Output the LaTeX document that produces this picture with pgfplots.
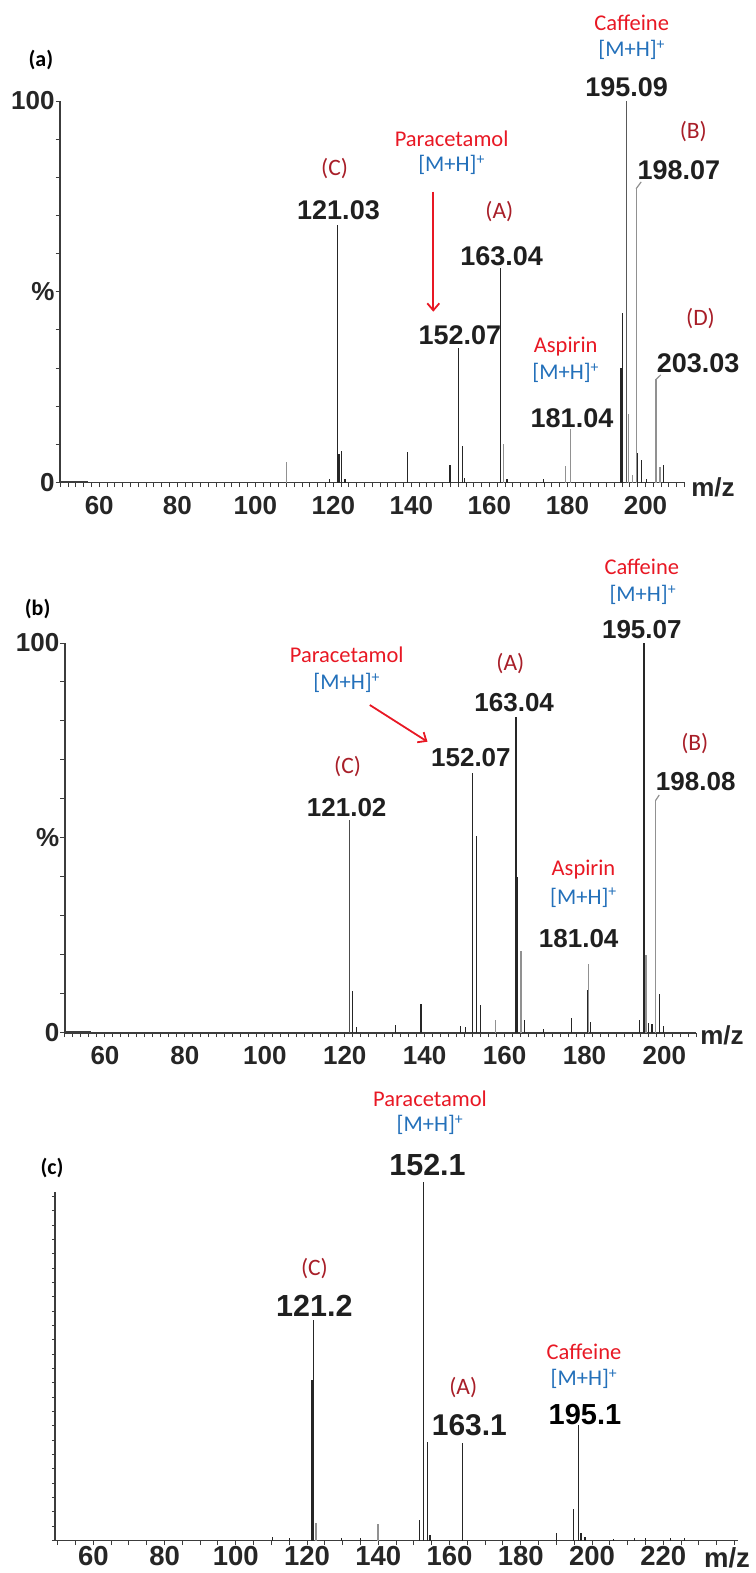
\documentclass[border=0pt]{standalone}
\usepackage{fontspec}
\setmainfont{Liberation Sans}
\newfontfamily\calib{Carlito}
\usepackage{pgfplots}
\pgfplotsset{compat=1.18}
\usetikzlibrary{arrows.meta}

\definecolor{cred}{RGB}{232,24,36}
\definecolor{cblue}{RGB}{35,112,186}
\definecolor{cdred}{RGB}{168,30,40}
\definecolor{pkc}{RGB}{38,38,38}
\definecolor{pgc}{RGB}{145,145,145}
\definecolor{axc}{RGB}{60,60,60}

\pgfplotsset{
  ms/.style={
    scale only axis, anchor=south west, clip=false,
    axis lines=left, axis line style={-, line width=1.6pt, draw=axc},
    ymin=0, ymax=100,
    tick style={line width=1pt, draw=axc},
    tick align=outside,
    major tick length=4.5pt, minor tick length=4.5pt,
    /pgf/number format/assume math mode=true,
    ticklabel style={font=\bfseries\fontsize{26}{26}\selectfont, text=black!85, inner sep=0pt},
  },
  pk/.style={ycomb, no markers, line width=1.2pt, draw=pkc},
  pg/.style={ycomb, no markers, line width=1.2pt, draw=pgc},
}
\tikzset{
  nm/.style={font=\bfseries\fontsize{27}{27}\selectfont, text=black!88, inner sep=0pt},
  cn/.style={font=\calib\fontsize{22.5}{22.5}\selectfont, text=cred, inner sep=0pt},
  mh/.style={font=\calib\fontsize{22.5}{22.5}\selectfont, text=cblue, inner sep=0pt},
  lt/.style={font=\calib\fontsize{23.5}{23.5}\selectfont, text=cdred, inner sep=0pt},
  pl/.style={font=\calib\bfseries\fontsize{22}{22}\selectfont, text=black, inner sep=0pt},
  mz/.style={font=\bfseries\fontsize{26}{26}\selectfont, text=black!85, inner sep=0pt},
}

\begin{document}
\begin{tikzpicture}
\path[use as bounding box] (0pt,0pt) rectangle (755pt,-1573pt);

% ---------------- (a) ----------------
\begin{axis}[ms, at={(60.2pt,-482.5pt)}, width=624.3pt, height=381.5pt,
  xmin=50, xmax=210, xtick={60,80,...,200}, minor xtick={50,52,...,210},
  ytick={0,50,100}, yticklabels={0,\%,100}, minor ytick={10,20,...,90},
  xticklabel style={yshift=-9pt}, yticklabel style={xshift=-1pt}]
\addplot[axc, line width=1.4pt] coordinates {(50,0.3) (57,0.3)};
\addplot[pg] coordinates {(108.0,5.4) (163.7,10) (179.6,4.3) (180.8,14)
  (195.6,18) (196.7,2) (197.6,77) (202.7,27) (203.7,4)};
\addplot[pk] coordinates {(119.1,1) (121.1,67.5) (122.1,8.3) (123.0,1)
  (139.0,7.9) (149.9,4.5) (152.0,35.3) (153.1,9.5) (153.6,1.2) (162.9,56.3)
  (164.5,1) (173.8,1) (194.2,44.5) (197.9,7.8) (198.9,6) (200.3,1) (204.6,4.6)};
\addplot[pk, line width=2pt] coordinates {(121.35,7.6) (193.65,30)};
\addplot[pk, draw=black!65] coordinates {(195.2,100)};
\draw[pgc, line width=1.2pt] (197.6,77) -- (198.9,78.8);
\draw[pgc, line width=1.2pt] (202.7,27) -- (203.9,28.2);
\end{axis}

\node[pl] at (40.9pt,-60pt) {(a)};
\node[cn] at (631.7pt,-23.3pt) {Caffeine};
\node[mh] at (631.7pt,-50pt) {[M+H]\textsuperscript{+}};
\node[nm] at (626.7pt,-87.3pt) {195.09};
\node[lt] at (693.3pt,-131.7pt) {(B)};
\node[nm] at (678.9pt,-170pt) {198.07};
\node[cn] at (451.6pt,-138.3pt) {Paracetamol};
\node[mh] at (451.6pt,-165pt) {[M+H]\textsuperscript{+}};
\draw[cred, line width=1.8pt, -{Straight Barb[length=7pt,width=12pt]}] (433.3pt,-191.7pt) -- (433.3pt,-311.7pt);
\node[lt] at (334.6pt,-168.3pt) {(C)};
\node[nm] at (338.5pt,-210.7pt) {121.03};
\node[lt] at (499.3pt,-211.7pt) {(A)};
\node[nm] at (501.7pt,-256.7pt) {163.04};
\node[nm] at (459.8pt,-335pt) {152.07};
\node[lt] at (700.5pt,-318.3pt) {(D)};
\node[cn] at (565.7pt,-346.7pt) {Aspirin};
\node[mh] at (565.7pt,-373.3pt) {[M+H]\textsuperscript{+}};
\node[nm] at (698.1pt,-363.3pt) {203.03};
\node[nm] at (572pt,-418.3pt) {181.04};
\node[mz] at (713pt,-487pt) {m/z};

% ---------------- (b) ----------------
\begin{axis}[ms, at={(65pt,-1032.7pt)}, width=631.4pt, height=389.7pt,
  xmin=50, xmax=208, xtick={60,80,...,200}, minor xtick={50,52,...,208},
  ytick={0,50,100}, yticklabels={0,\%,100}, minor ytick={10,20,...,90},
  xticklabel style={yshift=-9pt}, yticklabel style={xshift=-1pt}]
\addplot[axc, line width=1.4pt] coordinates {(50,0.3) (56.5,0.3)};
\addplot[pg] coordinates {(157.8,3.3) (164.1,21) (180.9,17.7) (195.4,20) (197.8,59.6)};
\addplot[pk, draw=black!70] coordinates {(121.1,54.5)};
\addplot[pk] coordinates {(121.9,10.8) (122.9,1.5) (132.8,2) (139.1,7.4)
  (149.0,1.7) (150.3,1.5) (152.0,66.6) (153.0,50.6) (154.0,7) (165.0,3.3)
  (169.8,1) (176.8,3.8) (180.8,11) (181.4,2.7) (193.75,3.3) (194.9,100)
  (196.1,2.4) (196.9,2.2) (198.8,10) (199.75,1.7)};
\addplot[pk, line width=2.4pt] coordinates {(162.8,81) (163.05,40)};
\draw[pgc, line width=1.2pt] (197.8,59.6) -- (198.7,61);
\end{axis}

\node[pl] at (37.6pt,-609.3pt) {(b)};
\node[cn] at (641.8pt,-566.7pt) {Caffeine};
\node[mh] at (642.8pt,-595pt) {[M+H]\textsuperscript{+}};
\node[nm, font=\bfseries\fontsize{26}{26}\selectfont] at (641.8pt,-629.3pt) {195.07};
\node[cn] at (346.7pt,-655pt) {Paracetamol};
\node[mh] at (346.7pt,-683.3pt) {[M+H]\textsuperscript{+}};
\draw[cred, line width=1.8pt, -{Straight Barb[length=7pt,width=12pt]}] (369.8pt,-705pt) -- (427.5pt,-741.7pt);
\node[lt] at (510.4pt,-663.3pt) {(A)};
\node[nm, font=\bfseries\fontsize{26}{26}\selectfont] at (514.2pt,-702.7pt) {163.04};
\node[nm, font=\bfseries\fontsize{26}{26}\selectfont] at (470.9pt,-757.3pt) {152.07};
\node[lt] at (694.8pt,-744pt) {(B)};
\node[nm, font=\bfseries\fontsize{26}{26}\selectfont] at (695.7pt,-781.7pt) {198.08};
\node[lt] at (347.6pt,-766.7pt) {(C)};
\node[nm, font=\bfseries\fontsize{26}{26}\selectfont] at (346.7pt,-807.3pt) {121.02};
\node[cn] at (583.5pt,-870pt) {Aspirin};
\node[mh] at (583.5pt,-897.7pt) {[M+H]\textsuperscript{+}};
\node[nm, font=\bfseries\fontsize{26}{26}\selectfont] at (578.7pt,-938.3pt) {181.04};
\node[mz] at (722pt,-1035pt) {m/z};

% ---------------- (c) ----------------
\begin{axis}[ms, at={(55pt,-1540.5pt)}, width=683.1pt, height=349pt,
  xmin=49.25, xmax=241, ymax=97.4, xtick={60,80,...,220}, minor xtick={50,55,...,240},
  ytick={0,4,...,96}, yticklabels={}, major tick length=3pt,
  ticklabel style={font=\bfseries\fontsize{27.5}{27.5}\selectfont},
  xticklabel style={yshift=-3pt}]
\addplot[pg] coordinates {(122.5,4.9) (139.9,4.6)};
\addplot[pk] coordinates {(110.3,1) (115,0.8) (121.7,61.6) (129.7,0.8)
  (134.9,0.8) (151.5,5.7) (152.6,100) (153.9,27.4) (154.5,1.5) (163.7,27.2)
  (190.1,2.2) (194.8,8.8) (196.2,32.3) (196.9,2) (198,1) (206,0.5) (212,0.8)
  (215,0.6) (222,0.6) (226,0.6)};
\addplot[pk, line width=3pt] coordinates {(121.5,44.9)};
\end{axis}

\node[pl] at (52pt,-1168.1pt) {(c)};
\node[cn] at (430pt,-1098.3pt) {Paracetamol};
\node[mh] at (430pt,-1125.1pt) {[M+H]\textsuperscript{+}};
\node[nm, font=\bfseries\fontsize{30.5}{30.5}\selectfont] at (427.5pt,-1164.6pt) {152.1};
\node[lt] at (314.4pt,-1268.7pt) {(C)};
\node[nm, font=\bfseries\fontsize{30.5}{30.5}\selectfont] at (314.4pt,-1305.7pt) {121.2};
\node[cn] at (584pt,-1351.6pt) {Caffeine};
\node[mh] at (584pt,-1379.1pt) {[M+H]\textsuperscript{+}};
\node[lt] at (463.2pt,-1387.5pt) {(A)};
\node[nm, font=\bfseries\fontsize{30}{30}\selectfont] at (469.4pt,-1425.6pt) {163.1};
\node[nm, font=\bfseries\fontsize{29}{29}\selectfont, text=black] at (585pt,-1414.4pt) {195.1};
\node[mz, font=\bfseries\fontsize{27.5}{27.5}\selectfont] at (727pt,-1558pt) {m/z};
\end{tikzpicture}
\end{document}
